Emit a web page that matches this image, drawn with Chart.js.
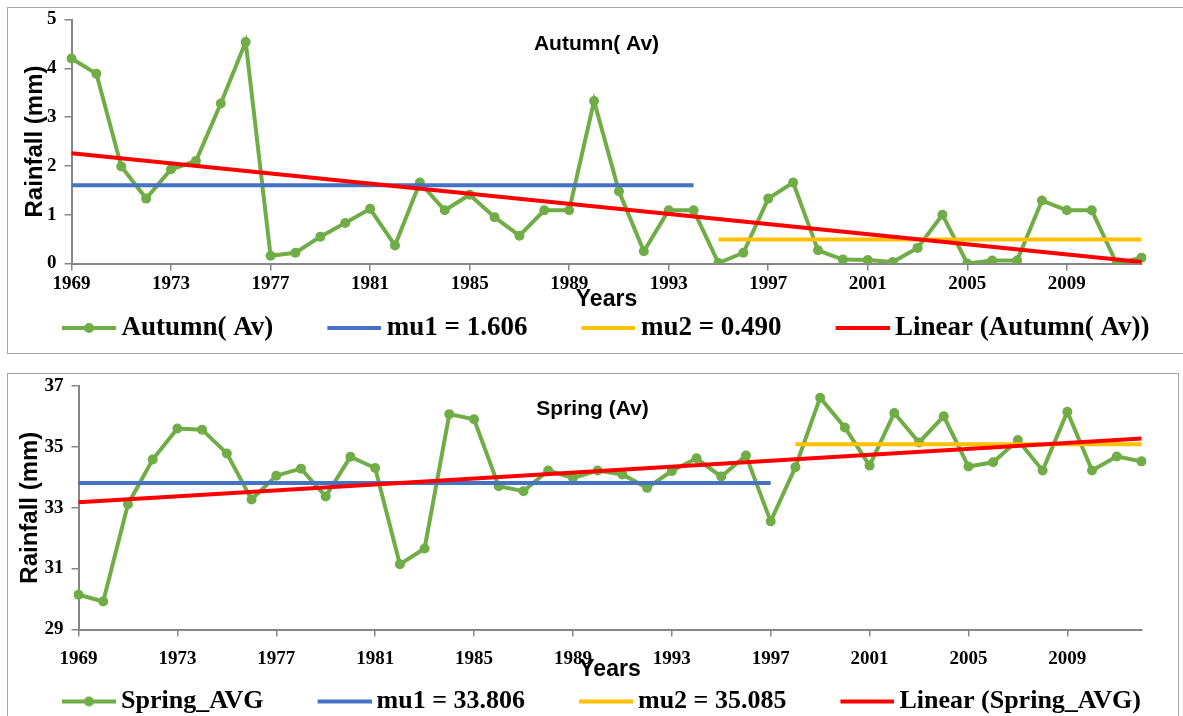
<!DOCTYPE html>
<html>
<head>
<meta charset="utf-8">
<script src="https://cdn.jsdelivr.net/npm/chart.js@4/dist/chart.umd.min.js"></script>
<style>
  body { margin: 0; background: #fff; width: 1183px; height: 716px; overflow: hidden; position: relative; }
  .box { position: absolute; border: 1.5px solid #a6a6a6; box-sizing: border-box; }
  #boxTop { left: 7px; top: 7px; width: 1178px; height: 347px; }
  #boxBottom { left: 7px; top: 373px; width: 1172px; height: 350px; }
  canvas { display: block; position: absolute; left: 0; top: -10px; }
</style>
</head>
<body>
<div class="box" id="boxTop"><canvas id="autumnChart" width="1175" height="354"></canvas></div>
<div class="box" id="boxBottom"><canvas id="springChart" width="1169" height="362"></canvas></div>
<script>
const years = [1969, 1970, 1971, 1972, 1973, 1974, 1975, 1976, 1977, 1978, 1979,
  1980, 1981, 1982, 1983, 1984, 1985, 1986, 1987, 1988, 1989, 1990, 1991, 1992,
  1993, 1994, 1995, 1996, 1997, 1998, 1999, 2000, 2001, 2002, 2003, 2004, 2005,
  2006, 2007, 2008, 2009, 2010, 2011, 2012];

// Autumn average rainfall (mm)
const autumnAvg = [4.20, 3.89, 1.99, 1.33, 1.93, 2.10, 3.28, 4.54, 0.16, 0.22, 0.55,
  0.83, 1.12, 0.37, 1.66, 1.09, 1.41, 0.95, 0.57, 1.09, 1.09, 3.33, 1.48, 0.25,
  1.09, 1.09, 0.01, 0.22, 1.33, 1.66, 0.27, 0.08, 0.07, 0.03, 0.32, 1.00, 0.00,
  0.06, 0.06, 1.29, 1.09, 1.09, 0.00, 0.12];
const autumnMu = [1.606, 0.490];
const autumnBreakYear = 1994;      // last year of the mu1 segment
const autumnTrend = [2.26, 0.03];  // trend line at first and last year

// Spring average rainfall (mm)
const springAvg = [30.14, 29.92, 33.11, 34.58, 35.60, 35.56, 34.78, 33.27, 34.05, 34.28, 33.37,
  34.67, 34.30, 31.14, 31.66, 36.07, 35.90, 33.70, 33.54, 34.22, 33.98, 34.22, 34.09, 33.65,
  34.20, 34.62, 34.02, 34.71, 32.55, 34.33, 36.61, 35.63, 34.38, 36.11, 35.14, 36.00, 34.35,
  34.49, 35.22, 34.22, 36.15, 34.22, 34.68, 34.52];
const springMu = [33.806, 35.085];
const springBreakYear = 1997;
const springTrend = [33.18, 35.27];

const GREEN = '#70ad47', BLUE = '#4472c4', GOLD = '#ffc000', RED = '#ff0000';
const AXIS = '#868686';
const SERIF = '"Liberation Serif", "Times New Roman", serif';
const SANS = '"Liberation Sans", Arial, sans-serif';

// legend sample: 54px line sitting close to the text, blank space on its left
function legendIcon(color, dot) {
  const c = document.createElement('canvas');
  c.width = 92; c.height = 12;
  const g = c.getContext('2d');
  g.strokeStyle = color; g.lineWidth = 4;
  g.beginPath(); g.moveTo(38, 6); g.lineTo(92, 6); g.stroke();
  if (dot) { g.fillStyle = color; g.beginPath(); g.arc(65, 6, 5, 0, Math.PI * 2); g.fill(); }
  return c;
}
const icons = [legendIcon(GREEN, true), legendIcon(BLUE), legendIcon(GOLD), legendIcon(RED)];

const innerTitle = {
  id: 'innerTitle',
  afterDraw(chart, args, opts) {
    const ctx = chart.ctx;
    ctx.save();
    ctx.font = 'bold 21px ' + SANS;
    ctx.fillStyle = '#000';
    ctx.textAlign = 'center';
    ctx.textBaseline = 'middle';
    ctx.fillText(opts.text, opts.x, opts.y);
    ctx.restore();
  }
};

function makeChart(id, cfg) {
  const mu1 = years.map(y => y <= cfg.breakYear ? cfg.mu[0] : null);
  const mu2 = years.map(y => y > cfg.breakYear ? cfg.mu[1] : null);
  const trend = years.map((y, i) => i === 0 ? cfg.trend[0] : (i === years.length - 1 ? cfg.trend[1] : null));

  new Chart(document.getElementById(id), {
    type: 'line',
    data: {
      labels: years,
      datasets: [
        { label: cfg.name, data: cfg.values, borderColor: GREEN, backgroundColor: GREEN,
          borderWidth: 4, pointRadius: 5, pointBorderWidth: 0, pointBackgroundColor: GREEN, order: 4 },
        { label: 'mu1 = ' + cfg.mu[0].toFixed(3), data: mu1, borderColor: BLUE, backgroundColor: BLUE,
          borderWidth: 4, pointRadius: 0, order: 3 },
        { label: 'mu2 = ' + cfg.mu[1].toFixed(3), data: mu2, borderColor: GOLD, backgroundColor: GOLD,
          borderWidth: 4, pointRadius: 0, order: 2 },
        { label: 'Linear (' + cfg.name + ')', data: trend, borderColor: RED, backgroundColor: RED,
          borderWidth: 4, pointRadius: 0, spanGaps: true, order: 1 }
      ]
    },
    options: {
      responsive: false,
      animation: false,
      layout: { padding: { left: 0, right: 0, top: cfg.padTop, bottom: cfg.padBottom } },
      plugins: {
        tooltip: { enabled: false },
        innerTitle: { text: cfg.title, x: cfg.titleX, y: cfg.titleY },
        legend: {
          position: 'bottom',
          align: 'start',
          labels: {
            usePointStyle: true,
            pointStyleWidth: 76,
            boxHeight: 12,
            padding: 24,
            color: '#000',
            font: { family: SERIF, size: cfg.legendSize, weight: 'bold' },
            sort: (a, b) => a.datasetIndex - b.datasetIndex,
            generateLabels(chart) {
              const items = Chart.defaults.plugins.legend.labels.generateLabels(chart);
              items.forEach(it => { it.pointStyle = icons[it.datasetIndex]; });
              return items;
            }
          }
        }
      },
      scales: {
        x: {
          type: 'category',
          offset: false,
          afterFit: s => { s.height = cfg.xHeight; },
          border: { color: AXIS, width: 2 },
          grid: {
            drawOnChartArea: false, tickLength: 7, lineWidth: 1.5,
            color: c => (c.index % 4 === 0 ? AXIS : 'rgba(0,0,0,0)')
          },
          ticks: {
            autoSkip: false, maxRotation: 0, padding: cfg.xTickPad, color: '#000',
            font: { family: SERIF, size: 19, weight: 'bold' },
            callback: (v, i) => (i % 4 === 0 ? years[i] : '')
          },
          title: {
            display: true, text: 'Years', color: '#000', padding: { top: 0, bottom: cfg.xTitlePad },
            font: { family: SANS, size: 23, weight: 'bold' }
          }
        },
        y: {
          min: cfg.yMin, max: cfg.yMax,
          afterFit: s => { s.width = cfg.plotLeft; },
          border: { color: AXIS, width: 2 },
          grid: { drawOnChartArea: false, tickLength: 7, color: AXIS, lineWidth: 1.5 },
          ticks: {
            stepSize: cfg.yStep, padding: 8, color: '#000',
            font: { family: SERIF, size: 19, weight: 'bold' }
          },
          title: {
            display: true, text: 'Rainfall (mm)', color: '#000', padding: { top: cfg.yTitlePad, bottom: 0 },
            font: { family: SANS, size: 24, weight: 'bold' }
          }
        },
        yRight: {
          type: 'linear', position: 'right',
          afterFit: s => { s.width = cfg.plotRight; },
          grid: { display: false }, border: { display: false }, ticks: { display: false }
        }
      }
    },
    plugins: [innerTitle]
  });
}

makeChart('autumnChart', {
  name: 'Autumn( Av)', title: 'Autumn( Av)', titleX: 588.5, titleY: 46.5, values: autumnAvg,
  mu: autumnMu, breakYear: autumnBreakYear, trend: autumnTrend,
  yMin: 0, yMax: 5, yStep: 1, plotLeft: 63.5, plotRight: 41.5, padTop: 21.5, padBottom: 0.5,
  yTitlePad: 13, xHeight: 27, xTickPad: 2, xTitlePad: -22.8, legendSize: 27
});

makeChart('springChart', {
  name: 'Spring_AVG', title: 'Spring (Av)', titleX: 584.5, titleY: 45.5, values: springAvg,
  mu: springMu, breakYear: springBreakYear, trend: springTrend,
  yMin: 29, yMax: 37, yStep: 2, plotLeft: 70.5, plotRight: 35.5, padTop: 21.8, padBottom: 1.5,
  yTitlePad: 8, xHeight: 35, xTickPad: 11.6, xTitlePad: -18.8, legendSize: 26
});
</script>
</body>
</html>
